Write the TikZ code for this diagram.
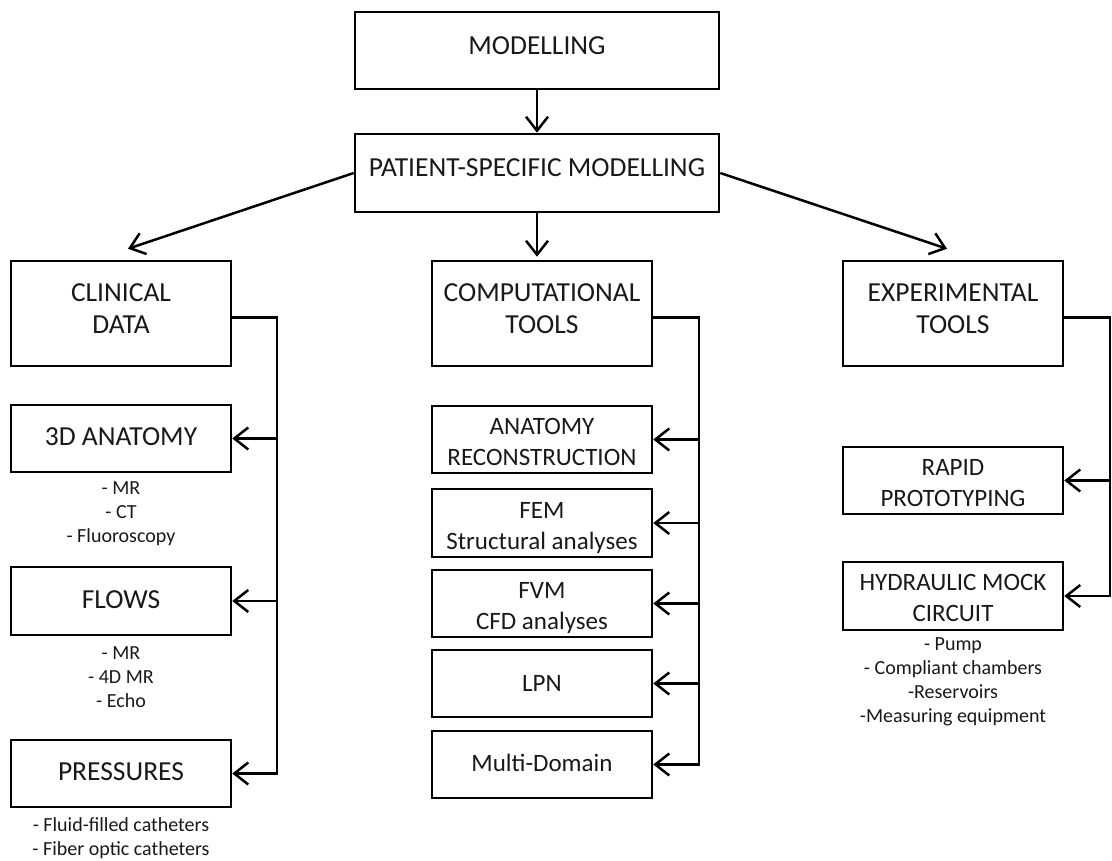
\documentclass[tikz,border=0pt]{standalone}
\usepackage{fontspec}
\setmainfont{Carlito}
\usetikzlibrary{arrows.meta}
\newcommand\mydn[1]{\rule{0pt}{#1}}
\newcommand\myup[1]{\rule[-#1]{0pt}{#1}}
\begin{document}
\begin{tikzpicture}[x=1pt,y=-1pt,
  mybox/.style={draw=black,line width=2.5pt,inner sep=0pt,minimum width=220pt,align=center,
    font=\fontsize{25}{31}\selectfont,text=black!90},
  bigbox/.style={mybox,font=\fontsize{27.5}{32}\selectfont},
  sub/.style={inner sep=0pt,align=center,font=\fontsize{20}{24}\selectfont,text=black!90},
  conn/.style={draw=black,line width=2.5pt},
  arr/.style={conn,-{Straight Barb[length=14pt,width=22pt]}}]
\useasboundingbox (0,0) rectangle (1112,861);
% top
\node[bigbox,minimum width=364pt,minimum height=77pt] (model) at (537,50.5) {MODELLING\myup{9pt}};
\node[bigbox,minimum width=364pt,minimum height=78pt] (psm) at (537,173) {PATIENT-SPECIFIC MODELLING\myup{10pt}};
% categories
\node[bigbox,minimum height=105pt] (clin) at (121,313.5) {CLINICAL\\DATA\myup{9pt}};
\node[bigbox,minimum height=105pt] (comp) at (542,313.5) {COMPUTATIONAL\\TOOLS\myup{9pt}};
\node[bigbox,minimum height=105pt] (exp) at (953,313.5) {EXPERIMENTAL\\TOOLS\myup{9pt}};
% clinical
\node[bigbox,minimum height=67pt] (anat3d) at (121,438.5) {3D ANATOMY\myup{4pt}};
\node[bigbox,minimum height=68pt] (flows) at (121,601) {FLOWS\myup{2pt}};
\node[bigbox,minimum height=67pt] (press) at (121,773.5) {PRESSURES\myup{4pt}};
\node[sub] (anat3dsub) at ([yshift=-40pt]anat3d.south) {- MR\\- CT\\- Fluoroscopy};
\node[sub] (flowssub) at ([yshift=-41pt]flows.south) {- MR\\- 4D MR\\- Echo};
\node[sub] (presssub) at ([yshift=-30pt]press.south) {- Fluid-filled catheters\\- Fiber optic catheters};
% computational
\node[mybox,minimum height=67pt] (anrec) at (542,439.5) {\mydn{21.5pt}ANATOMY\\RECONSTRUCTION};
\node[mybox,minimum height=68pt] (fem) at (542,523) {\mydn{26pt}FEM\\Structural analyses};
\node[mybox,minimum height=67pt] (fvm) at (542,603.5) {\mydn{25pt}FVM\\CFD analyses};
\node[mybox,minimum height=67pt] (lpn) at (542,683.5) {LPN};
\node[mybox,minimum height=67pt] (md) at (542,764.5) {Multi-Domain\myup{4pt}};
% experimental
\node[mybox,minimum height=67pt] (rapid) at (953,480.5) {\mydn{21.7pt}RAPID\\PROTOTYPING};
\node[mybox,minimum height=68pt] (hyd) at (953,596) {\mydn{19.7pt}HYDRAULIC MOCK\\CIRCUIT};
\node[sub] (hydsub) at ([yshift=-51pt]hyd.south) {- Pump\\- Compliant chambers\\-Reservoirs\\-Measuring equipment};
% trunk coordinates
\coordinate (cx) at (277,0);
\coordinate (mx) at (699,0);
\coordinate (ex) at (1110,0);
% top arrows
\draw[arr] (model) -- (psm);
\draw[arr] (psm.west) -- ([shift={(7,-11)}]clin.north);
\draw[arr] (psm.east) -- ([shift={(-6,-11)}]exp.north);
\draw[arr] (psm.south) -- ([yshift=3pt]psm.south |- comp.north);
% clinical trunk
\draw[arr] ([yshift=-4pt]clin.east) -| (cx |- press.east) -- (press.east);
\draw[arr] (cx |- anat3d.east) -- (anat3d.east);
\draw[arr] (cx |- flows.east) -- (flows.east);
% computational trunk
\draw[arr] ([yshift=-4pt]comp.east) -| (mx |- md.east) -- (md.east);
\draw[arr] (mx |- anrec.east) -- (anrec.east);
\draw[arr] (mx |- fem.east) -- (fem.east);
\draw[arr] (mx |- fvm.east) -- (fvm.east);
\draw[arr] (mx |- lpn.east) -- (lpn.east);
% experimental trunk
\draw[arr] ([yshift=-4pt]exp.east) -| (ex |- hyd.east) -- (hyd.east);
\draw[arr] (ex |- rapid.east) -- (rapid.east);
\end{tikzpicture}
\end{document}
